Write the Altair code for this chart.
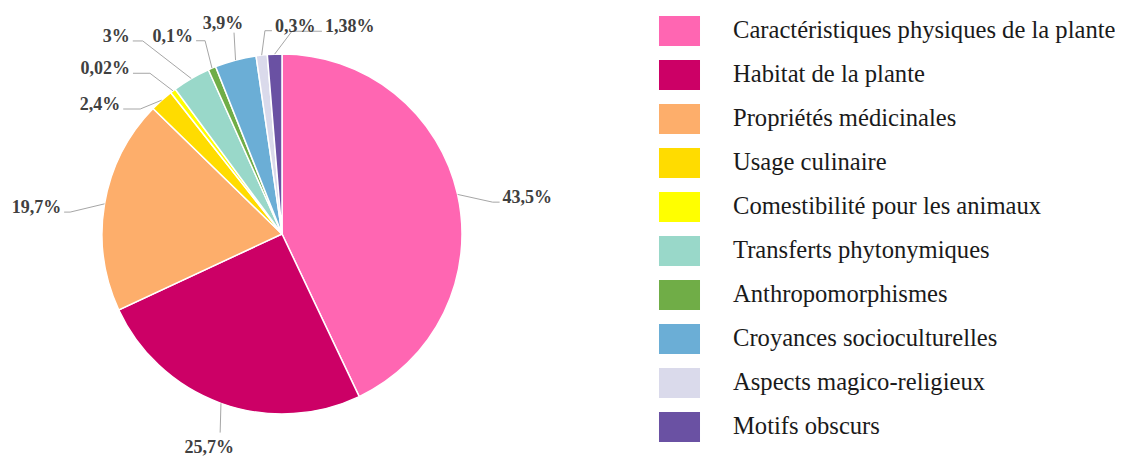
import altair as alt
import pandas as pd

# ---- data ----
categories = [
    "Caractéristiques physiques de la plante",
    "Habitat de la plante",
    "Propriétés médicinales",
    "Usage culinaire",
    "Comestibilité pour les animaux",
    "Transferts phytonymiques",
    "Anthropomorphismes",
    "Croyances socioculturelles",
    "Aspects magico-religieux",
    "Motifs obscurs",
]
# visual share of each slice (as drawn)
shares = [42.9, 25.1, 19.2, 2.1, 0.5, 3.4, 0.7, 3.7, 1.0, 1.3]
# printed labels
labels = ["43,5%", "25,7%", "19,7%", "2,4%", "0,02%", "3%", "0,1%", "3,9%", "0,3%", "1,38%"]
colors = ["#FF66B2", "#CC0066", "#FDAE6B", "#FFDC00", "#FFFF00",
          "#99D8C9", "#70AD47", "#6BAED6", "#DADAEB", "#6A51A3"]

# ---- label layout (leader elbow in polar coords around the pie centre) ----
label_angle = [81.4, 197.3, 275.9, 311.4, 320.6, 324.2, 338.3, 346.6, 355.2, 2.8]
label_radius = [213, 208, 213, 189, 208, 238, 208, 207, 204, 203]
label_side = ["R", "B", "L", "L", "L", "L", "L", "T", "R", "R"]
label_stub = [7, 0, 6, 17, 17, 10, 9, 0, 7, 30]

CX, CY, R = 274, 226, 180
W, H = 1107, 449

df = pd.DataFrame({
    "idx": list(range(len(categories))),
    "category": categories,
    "share": shares,
    "label": labels,
    "ang": label_angle,
    "rad": label_radius,
    "side": label_side,
    "stub": label_stub,
})

base = alt.Chart(df).transform_window(
    cum="sum(share)", sort=[alt.SortField("idx", order="ascending")]
).transform_joinaggregate(
    total="sum(share)"
).transform_calculate(
    mid="(datum.cum - datum.share/2) / datum.total * 2 * PI",
    x0=f"{CX} + {R} * sin(datum.mid)",
    y0=f"{CY} - {R} * cos(datum.mid)",
    x1=f"{CX} + datum.rad * sin(datum.ang * PI / 180)",
    y1=f"{CY} - datum.rad * cos(datum.ang * PI / 180)",
).transform_calculate(
    x2="datum.side == 'R' ? datum.x1 + datum.stub : (datum.side == 'L' ? datum.x1 - datum.stub : datum.x1)",
).transform_calculate(
    tx="datum.side == 'R' ? datum.x2 + 3 : (datum.side == 'L' ? datum.x2 - 3 : datum.x1 - 11)",
    ty="datum.side == 'B' ? datum.y1 + 20 : (datum.side == 'T' ? datum.y1 - 4 : datum.y1 + 1)",
)

pie = alt.Chart(df).mark_arc(stroke="white", strokeWidth=1.5, radius=R).encode(
    theta=alt.Theta("share:Q", stack=True),
    order=alt.Order("idx:Q", sort="ascending"),
    color=alt.Color(
        "category:N",
        sort=categories,
        scale=alt.Scale(domain=categories, range=colors),
        legend=alt.Legend(
            title=None,
            orient="none",
            legendX=656.5,
            legendY=8,
            padding=0,
            symbolType="M-1.367,-1H1.367V1H-1.367Z",
            symbolSize=900,
            symbolStrokeWidth=0,
            symbolOpacity=1,
            labelFont="Liberation Serif",
            labelFontSize=24.6,
            labelColor="#1a1a1a",
            labelOffset=38.5,
            labelLimit=600,
            rowPadding=14,
        ),
    ),
    x=alt.value(CX),
    y=alt.value(CY),
)

leader1 = base.mark_rule(color="#A6A6A6", strokeWidth=1).encode(
    x=alt.X("x0:Q", scale=None, axis=None),
    y=alt.Y("y0:Q", scale=None, axis=None),
    x2="x1:Q",
    y2="y1:Q",
)
leader2 = base.mark_rule(color="#A6A6A6", strokeWidth=1).encode(
    x=alt.X("x1:Q", scale=None, axis=None),
    y=alt.Y("y1:Q", scale=None, axis=None),
    x2="x2:Q",
    y2="y1:Q",
)

def label_layer(sides, align):
    return base.transform_filter(
        alt.FieldOneOfPredicate(field="side", oneOf=sides)
    ).mark_text(
        align=align, baseline="alphabetic", font="Liberation Serif",
        fontWeight="bold", fontSize=18, color="#404040",
    ).encode(
        x=alt.X("tx:Q", scale=None, axis=None),
        y=alt.Y("ty:Q", scale=None, axis=None),
        text="label:N",
    )

chart = alt.layer(
    pie, leader1, leader2,
    label_layer(["R"], "left"),
    label_layer(["L"], "right"),
    label_layer(["T", "B"], "center"),
).properties(
    width=W, height=H, padding=0, autosize=alt.AutoSizeParams(type="none"),
).configure(
    background="white",
    view=alt.ViewConfig(stroke=None),
)

chart.save("out.html", embed_options={"renderer": "svg", "actions": False})
